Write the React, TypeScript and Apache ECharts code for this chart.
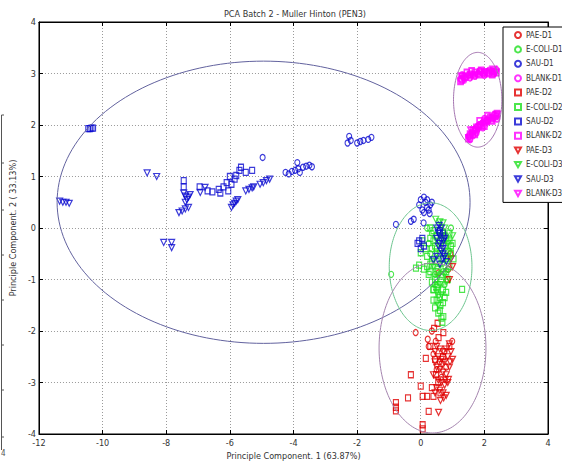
import { useEffect, useRef } from "react";
import * as echarts from "echarts";

const TITLE = "PCA Batch 2 - Muller Hinton (PEN3)";
const X_NAME = "Principle Component. 1 (63.87%)";
const Y_NAME = "Principle Component. 2 ( 33.13%)";

const seriesNames = [
  "PAE-D1", "E-COLI-D1", "SAU-D1", "BLANK-D1",
  "PAE-D2", "E-COLI-D2", "SAU-D2", "BLANK-D2",
  "PAE-D3", "E-COLI-D3", "SAU-D3", "BLANK-D3",
];

const PAE_D1 = [[-0.16,-2.03],[0.22,-2.16],[0.25,-2.3],[0.47,-2.2],[0.99,-2.2],[0.4,-2.45],[0.56,-0.87],[0.87,-0.8],[0.93,-0.5],[0.84,-1.0],[0.6,-2.6],[0.75,-2.4],[0.5,-2.75],[0.65,-2.9],[0.8,-2.7],[0.35,-2.0]];
const ECOLI_D1 = [[-0.93,-0.9],[0.2,0.0],[0.35,-0.1],[0.5,-0.2],[0.65,-0.3],[0.8,-0.15],[0.95,0.0],[0.7,-0.5],[0.6,-0.7],[0.4,-0.6],[0.45,-0.9],[0.85,-0.8],[0.25,-0.3],[0.55,0.05],[0.9,-0.45],[0.75,-1.1],[0.55,-1.3],[0.3,-0.5],[0.5,-0.4],[0.7,-0.85],[0.45,-1.1]];
const SAU_D1 = [[-4.97,1.37],[-4.25,1.08],[-4.15,1.05],[-4.05,1.1],[-3.95,1.12],[-3.85,1.15],[-3.8,1.08],[-3.7,1.18],[-3.6,1.2],[-3.5,1.22],[-3.42,1.19],[-3.88,1.27],[-2.3,1.65],[-2.25,1.78],[-2.2,1.7],[-2.0,1.65],[-1.9,1.68],[-1.8,1.7],[-1.65,1.72],[-1.55,1.76],[-0.78,0.07],[-0.31,0.13],[-0.22,0.17],[0.09,0.1],[-0.05,0.45],[0.0,0.55],[0.1,0.6],[0.15,0.5],[0.2,0.4],[0.25,0.35],[0.3,0.45],[0.05,0.35],[0.2,0.55],[0.35,0.5],[0.1,0.3],[0.28,0.28],[0.6,-0.1],[0.65,-0.2],[0.7,-0.3],[0.75,-0.15]];
const BLANK_D1 = [[1.25,2.9],[1.35,2.95],[1.5,2.97],[1.65,2.98],[1.8,3.0],[1.95,3.0],[2.1,3.02],[2.25,3.05],[2.38,3.07],[1.3,2.97],[1.55,2.92],[1.7,2.95],[1.85,3.05],[2.0,2.97],[2.15,3.06],[2.3,3.0],[1.5,1.78],[1.6,1.85],[1.7,1.92],[1.8,1.98],[1.95,2.05],[2.1,2.1],[2.25,2.15],[2.38,2.17],[1.55,1.72],[1.65,1.8],[1.75,1.85],[1.85,2.0],[2.0,2.12],[2.15,2.15],[2.3,2.2],[2.4,2.12],[1.95,1.95]];
const PAE_D2 = [[-0.31,-2.85],[0.16,-2.53],[-0.4,-3.3],[0.0,-3.07],[0.06,-3.27],[0.25,-3.56],[0.06,-3.82],[0.06,-3.9],[-0.78,-3.39],[-0.78,-3.48],[-0.78,-3.55],[0.4,-3.27],[0.71,-2.03],[0.56,-2.13],[0.53,-1.85],[0.3,-2.3],[0.45,-2.55],[0.55,-3.0],[0.35,-3.1],[0.62,-3.2],[0.2,-3.27],[0.48,-2.85],[0.7,-2.5],[0.9,-2.3],[0.42,-1.95]];
const ECOLI_D2 = [[0.6,-0.5],[0.55,-0.8],[0.45,-1.0],[0.4,-1.2],[0.5,-1.4],[0.6,-1.6],[0.65,-1.75],[0.71,-1.72],[0.68,-1.83],[0.3,-0.85],[0.1,-0.8],[-0.15,-0.78],[-0.05,-0.72],[0.9,-0.25],[0.95,-0.5],[1.03,-0.6],[0.85,-1.0],[0.7,-1.2],[1.3,-1.19],[0.5,-0.15],[0.35,-0.4],[0.2,-0.55],[0.75,-0.35],[0.8,-0.6],[0.65,-0.9],[0.55,-1.1],[0.45,-1.55],[0.0,-0.48],[0.05,-0.25],[0.9,-0.1],[1.0,-0.3],[0.3,-0.2],[0.4,-1.19],[0.6,-1.35],[0.7,-1.45],[0.8,-1.25],[0.35,-0.65],[0.45,-0.35],[0.15,-0.4],[0.3,0.0],[0.4,-0.05],[0.6,-0.05],[0.7,-0.1],[0.8,-0.2],[0.95,-0.35],[0.85,-0.45],[0.7,-0.6],[0.5,-0.65],[0.3,-0.7],[0.25,-0.9],[0.5,-0.85],[0.65,-1.05],[0.8,-0.85],[0.9,-0.75],[0.35,-1.05],[0.5,-1.15],[0.75,-1.35],[0.55,-1.65],[0.4,-1.4],[0.62,-1.5],[0.2,-0.75],[0.85,-0.55],[0.6,-0.25],[0.4,-0.25]];
const SAU_D2 = [[-10.45,1.93],[-10.4,1.93],[-10.35,1.94],[-10.3,1.94],[-7.45,0.92],[-7.45,0.8],[-6.95,0.8],[-6.7,0.72],[-6.55,0.7],[-6.35,0.75],[-6.2,0.8],[-6.1,0.88],[-6.0,1.0],[-5.95,0.85],[-5.85,0.95],[-5.8,1.02],[-5.7,1.12],[-5.65,1.18],[-5.5,1.08],[-5.3,1.12],[-6.05,0.72],[-6.3,0.68],[-0.05,-0.25],[0.05,-0.2],[0.1,-0.35],[0.0,-0.4],[-0.1,-0.3],[0.6,-0.05],[0.7,-0.1]];
const BLANK_D2 = [[1.3,2.88],[1.4,2.93],[1.55,2.98],[1.7,3.02],[1.85,2.98],[2.0,3.03],[2.15,3.0],[2.3,3.04],[1.45,3.02],[1.25,2.85],[1.6,3.05],[1.9,3.06],[2.25,2.98],[2.38,3.02],[1.55,1.82],[1.65,1.9],[1.75,1.95],[1.9,2.0],[2.05,2.08],[2.2,2.12],[2.35,2.18],[1.85,2.08],[2.1,2.18],[1.5,1.74],[1.7,1.82],[2.0,1.98],[2.25,2.08],[2.4,2.22]];
const PAE_D3 = [[0.5,-2.3],[0.6,-2.35],[0.7,-2.4],[0.8,-2.35],[0.9,-2.25],[0.55,-2.5],[0.65,-2.55],[0.75,-2.6],[0.85,-2.5],[0.95,-2.4],[0.5,-2.7],[0.6,-2.75],[0.7,-2.8],[0.8,-2.85],[0.9,-2.7],[0.55,-2.95],[0.65,-3.0],[0.75,-3.05],[0.85,-3.0],[0.6,-3.15],[0.7,-3.2],[0.8,-3.25],[0.5,-3.1],[0.87,-2.94],[0.56,-3.58],[0.45,-2.6],[1.0,-2.55],[0.9,-1.0],[1.0,-0.75],[0.95,-0.6],[0.72,-3.3],[0.62,-3.35],[0.45,-2.4],[0.4,-2.85],[0.45,-3.2],[0.67,-2.65],[0.77,-2.95],[0.92,-2.6]];
const ECOLI_D3 = [[0.47,0.17],[0.6,0.12],[0.75,0.0],[0.85,-0.3],[0.7,-0.7],[0.55,-0.95],[0.6,-1.1],[0.5,-1.25],[0.65,-1.3],[0.75,-0.9],[0.9,-0.6],[1.0,-0.15],[0.4,-0.75],[0.8,-1.05],[0.7,0.1],[0.5,-0.5],[0.65,-0.15],[0.55,-1.5]];
const SAU_D3 = [[-11.35,0.52],[-11.25,0.5],[-11.15,0.5],[-11.05,0.48],[-8.6,1.07],[-8.3,1.0],[-8.08,-0.28],[-7.83,-0.28],[-7.83,-0.38],[-7.45,0.68],[-7.4,0.62],[-7.35,0.55],[-7.3,0.6],[-7.25,0.65],[-7.4,0.5],[-7.6,0.3],[-7.5,0.33],[-7.4,0.37],[-7.3,0.4],[-6.93,0.69],[-6.78,0.79],[-5.95,0.4],[-5.9,0.45],[-5.85,0.48],[-5.8,0.52],[-5.75,0.55],[-5.5,0.72],[-5.4,0.75],[-5.3,0.78],[-5.25,0.8],[-5.05,0.85],[-4.95,0.88],[-4.85,0.92],[-4.75,0.95],[0.4,-0.62],[0.5,-0.55],[0.6,-0.7],[0.7,-0.5],[0.55,-0.1],[0.65,0.0],[0.75,-0.2],[0.6,-0.3],[0.7,-0.4],[0.5,-0.2],[0.55,-0.35],[0.65,-0.45],[0.7,-0.6],[0.75,-0.55],[0.8,-0.65],[0.6,-0.15],[0.72,-0.25],[0.5,0.0],[0.58,0.05]];
const BLANK_D3 = [[1.28,2.95],[1.42,2.9],[1.6,2.95],[1.75,2.97],[1.9,3.02],[2.05,3.0],[2.2,3.03],[2.35,3.02],[1.35,2.88],[2.28,3.08],[1.52,1.75],[1.62,1.8],[1.72,1.88],[1.85,1.95],[2.0,2.02],[2.15,2.08],[2.3,2.12],[2.4,2.2],[1.58,1.9],[1.8,1.9],[2.1,2.05]];

const seriesData = [PAE_D1, ECOLI_D1, SAU_D1, BLANK_D1, PAE_D2, ECOLI_D2, SAU_D2, BLANK_D2, PAE_D3, ECOLI_D3, SAU_D3, BLANK_D3];

// ellipse parameters (centre, semi-axes) for SAU, BLANK, E-COLI, PAE
const ellipseCx = [-4.94, 1.79, 0.31, 0.37];
const ellipseCy = [0.5, 2.49, -0.75, -2.33];
const ellipseRx = [6.49, 0.76, 1.3, 1.68];
const ellipseRy = [2.74, 0.92, 1.24, 1.65];
const ellipseColors = ["#62629e", "#a474b0", "#6cc48e", "#a484ae"];

const groupColors = ["#e00000", "#1fe01f", "#0a0ad0", "#ff00ff"];
const TRI = "path://M0,0L10,0L5,9Z";
const markerShapes = ["circle", "rect", TRI];
const FONT = "'Liberation Sans Narrow', 'DejaVu Sans Condensed', Arial, sans-serif";

function ellipsePoints(i: number) {
  const pts: number[][] = [];
  for (let k = 0; k <= 180; k++) {
    const t = (k / 180) * Math.PI * 2;
    pts.push([ellipseCx[i] + ellipseRx[i] * Math.cos(t), ellipseCy[i] + ellipseRy[i] * Math.sin(t)]);
  }
  return pts;
}

export default function App() {
  const ref = useRef<HTMLDivElement>(null);
  useEffect(() => {
    if (!ref.current) return;
    const chart = echarts.init(ref.current, undefined, { renderer: "svg" });
    const scatter = seriesNames.map((name, i) => {
      const color = groupColors[i % 4];
      const shape = markerShapes[Math.floor(i / 4)];
      return {
        type: "scatter",
        name,
        data: seriesData[i],
        symbol: shape,
        symbolSize: shape === "circle" ? [5, 6] : shape === "rect" ? [5, 6] : [6, 6],
        itemStyle: { color: "rgba(0,0,0,0)", borderColor: color, borderWidth: i % 4 === 3 ? 1.8 : 1.2 },
        emphasis: { disabled: true },
        xAxisIndex: 0,
        yAxisIndex: 0,
      };
    });
    const ellipses = ellipseCx.map((_, i) => ({
      type: "line",
      name: "ellipse" + i,
      data: ellipsePoints(i),
      showSymbol: false,
      silent: true,
      lineStyle: { color: ellipseColors[i], width: 1 },
      xAxisIndex: 0,
      yAxisIndex: 0,
    }));
    const axisCommon = {
      type: "value",
      axisLine: { show: true, onZero: false, lineStyle: { color: "#000", width: 1 } },
      axisTick: { show: true, inside: true, length: 4, lineStyle: { color: "#000" } },
    };
    const tickY = [115, 163, 210, 255, 300, 345, 390, 437];
    chart.setOption({
      animation: false,
      backgroundColor: "#fff",
      title: {
        text: TITLE,
        left: 290,
        textAlign: "center",
        top: 4,
        textStyle: { fontFamily: FONT, fontSize: 9, fontWeight: "normal", color: "#333" },
      },
      grid: { left: 33, right: 14, top: 22, bottom: 34, show: true, borderColor: "#000", borderWidth: 1 },
      legend: {
        data: seriesNames,
        orient: "vertical",
        left: 503,
        top: 27,
        padding: [3, 20, 4, 11],
        itemWidth: 6,
        itemHeight: 6,
        itemGap: 4.4,
        backgroundColor: "#fff",
        borderColor: "#000",
        borderWidth: 1,
        selectedMode: false,
        textStyle: { fontFamily: FONT, fontSize: 8, color: "#333", lineHeight: 10, padding: [0, 0, 0, 0] },
      },
      xAxis: [
        {
          ...axisCommon,
          min: -12,
          max: 4,
          interval: 2,
          position: "bottom",
          name: X_NAME,
          nameLocation: "middle",
          nameGap: 16,
          nameTextStyle: { fontFamily: FONT, fontSize: 9, color: "#333" },
          axisLabel: { fontFamily: FONT, fontSize: 9, color: "#333", margin: 4 },
          splitLine: { show: true, lineStyle: { color: "#9a9a9a", type: [1, 2], width: 1 } },
        },
        {
          ...axisCommon,
          min: -12,
          max: 4,
          interval: 2,
          position: "top",
          axisLabel: { show: false },
          splitLine: { show: false },
        },
      ],
      yAxis: [
        {
          ...axisCommon,
          min: -4,
          max: 4,
          interval: 1,
          position: "left",
          name: Y_NAME,
          nameLocation: "middle",
          nameGap: 10,
          nameRotate: 90,
          nameTextStyle: { fontFamily: FONT, fontSize: 9, color: "#333" },
          axisLabel: { fontFamily: FONT, fontSize: 9, color: "#333", margin: 3 },
          splitLine: { show: true, lineStyle: { color: "#9a9a9a", type: [1, 2], width: 1 } },
        },
        {
          ...axisCommon,
          min: -4,
          max: 4,
          interval: 1,
          position: "right",
          axisLabel: { show: false },
          splitLine: { show: false },
        },
      ],
      graphic: [
        { type: "line", shape: { x1: 1.5, y1: 115, x2: 1.5, y2: 450 }, style: { stroke: "#555", lineWidth: 1 } },
        ...tickY.map((y) => ({ type: "line", shape: { x1: 1.5, y1: y, x2: 4, y2: y }, style: { stroke: "#555", lineWidth: 1 } })),
        { type: "text", left: 1, top: 449, style: { text: "4", font: "8px " + FONT, fill: "#555" } },
      ],
      series: [...scatter, ...ellipses],
    });
    return () => chart.dispose();
  }, []);
  return <div ref={ref} style={{ position: "fixed", left: 0, top: 0, width: 562, height: 468 }} />;
}
